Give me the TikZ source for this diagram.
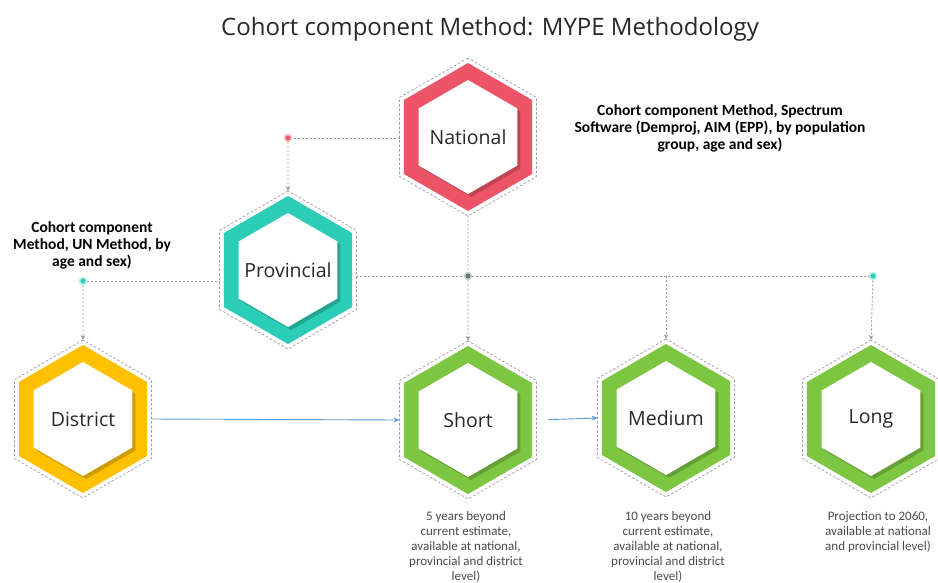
\documentclass[tikz,border=0pt]{standalone}
\usepackage{fontspec}
\setmainfont{Open Sans}
\newfontfamily\notefont{Carlito}
\usetikzlibrary{shapes.geometric,arrows.meta}

\definecolor{natred}{RGB}{238,84,104}
\definecolor{provteal}{RGB}{44,205,182}
\definecolor{distyellow}{RGB}{255,192,0}
\definecolor{termgreen}{RGB}{125,198,66}
\definecolor{linkgray}{RGB}{155,155,160}
\definecolor{hubgray}{RGB}{95,120,118}
\definecolor{flowblue}{RGB}{91,155,213}
\definecolor{inkgray}{RGB}{40,40,40}
\definecolor{softgray}{RGB}{75,75,75}

\tikzset{
  hexbase/.style={regular polygon, regular polygon sides=6, shape border rotate=30,
                  inner sep=0pt, outer sep=0pt},
  hexband/.style={hexbase, minimum size=148pt, fill=#1},
  hexshade/.style={hexbase, minimum size=114pt, fill=#1!65!black, opacity=0.55},
  hexcore/.style={hexbase, minimum size=114pt, fill=white},
  hexframe/.style={hexbase, minimum size=158pt, draw=linkgray, line width=0.7pt,
                   dash pattern=on 2.5pt off 2pt, text=inkgray,
                   font=\fontsize{19.5}{22}\selectfont},
  hubdot/.style={circle, inner sep=0pt, minimum size=7pt, fill=#1,
                 draw=#1!35, line width=1.6pt},
  link/.style={draw=linkgray, line width=0.9pt, dash pattern=on 2pt off 2pt},
  linkarrow/.style={link, -{Stealth[length=5pt,width=4.5pt]}},
  flow/.style={draw=flowblue, line width=0.9pt, -{Stealth[length=6pt,width=5pt]}},
  heading/.style={font=\fontsize{24}{29}\selectfont, text=inkgray},
  method/.style={font=\notefont\bfseries\fontsize{15.5}{17}\selectfont, align=center, text=black},
  horizon/.style={font=\notefont\fontsize{13}{15}\selectfont, align=center, text=softgray,
                  anchor=north, inner sep=0pt}
}

% one hexagon: coloured band, inner shadow, white core, dashed frame with label
\newcommand{\hexstage}[4]{%
  \node[hexband=#3] at (#2) {};
  \node[hexshade=#3, xshift=3pt, yshift=-3pt] at (#2) {};
  \node[hexcore] at (#2) {};
  \node[hexframe] (#1) at (#2) {#4};
}

\begin{document}
\begin{tikzpicture}[x=1pt,y=-1pt]
  \fill[white] (0,0) rectangle (938,582);
  \useasboundingbox (0,0) rectangle (938,582);

  \node[heading] (title) at (490,29) {Cohort component Method: MYPE Methodology};

  % hexagons
  \hexstage{nat}{468,137}{natred}{National}
  \hexstage{prov}{288,270}{provteal}{Provincial}
  \hexstage{dist}{83,419}{distyellow}{District}
  \hexstage{short}{468,420}{termgreen}{Short}
  \hexstage{med}{666,418}{termgreen}{Medium}
  \hexstage{long}{871,419}{termgreen}{Long}

  % junction dots
  \node[hubdot=natred] (p1) at (288,138) {};
  \node[hubdot=hubgray] (d2) at (468,276) {};
  \node[hubdot=provteal] (d3) at (873,276) {};
  \node[hubdot=provteal] (d1) at (83,281) {};
  \coordinate (mtap) at (med.90 |- d2);

  % dashed hierarchy links
  \draw[link] (nat.180 |- p1) -- (p1);
  \draw[linkarrow] (p1) -- (prov.90);
  \draw[link] (nat.270) -- (d2);
  \draw[linkarrow] (d2) -- (short.90);
  \draw[link] (prov.0 |- d2) -- (d2);
  \draw[link] (d2) -- (d3);
  \draw[linkarrow] (d3) -- (long.90);
  \draw[linkarrow] (mtap) -- (med.90);
  \draw[link] (d1) -- (prov.180 |- d1);
  \draw[linkarrow] (d1) -- (dist.90);

  % solid flow arrows
  \draw[flow] (dist.0) -- (short.180);
  \draw[flow, shorten <=12pt] (short.0) -- (med.180);

  % method notes
  \node[method] (natnote) at (720,128) {Cohort component Method, Spectrum\\Software (Demproj, AIM (EPP), by population\\group, age and sex)};
  \node[method] (distnote) at (92,245) {Cohort component\\Method, UN Method, by\\age and sex)};

  % projection horizons
  \node[horizon] (shortnote) at (466,511) {5 years beyond\\current estimate,\\available at national,\\provincial and district\\level)};
  \node[horizon] (mednote) at (668,511) {10 years beyond\\current estimate,\\available at national,\\provincial and district\\level)};
  \node[horizon] (longnote) at (878,511) {Projection to 2060,\\available at national\\and provincial level)};
\end{tikzpicture}
\end{document}
